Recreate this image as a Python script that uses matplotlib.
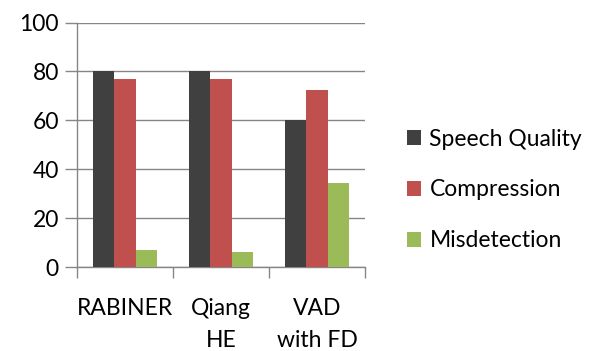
import numpy as np
import matplotlib
matplotlib.use("Agg")
import matplotlib.pyplot as plt
from matplotlib.patches import Patch

# values per method
methods = ["RABINER", "Qiang\nHE", "VAD\nwith FD"]
series_names = ["Speech Quality", "Compression", "Misdetection"]
speech_quality = [80, 80, 60]
compression = [77, 77, 72.5]
misdetection = [7, 6.3, 34.5]

colors = ["#404040", "#C0504D", "#9BBB59"]
axis_grey = "#868686"

plt.rcParams["font.family"] = ["Lato", "DejaVu Sans"]

fig = plt.figure(figsize=(5.92, 3.51), dpi=100)
ax = fig.add_axes([77 / 592, 1 - 267 / 351, (365 - 77) / 592, (267 - 22.5) / 351])

x = np.arange(len(methods))
w = 0.222
for i, (vals, c) in enumerate(zip([speech_quality, compression, misdetection], colors)):
    ax.bar(x + (i - 1) * w, vals, width=w, color=c, zorder=3)

ax.set_xlim(-0.5, len(methods) - 0.5)
ax.set_ylim(0, 100)
ax.set_yticks(range(0, 101, 20))
ax.yaxis.grid(True, color=axis_grey, linewidth=1.0, zorder=0)
ax.tick_params(axis="y", length=9, color=axis_grey, width=1.0, labelsize=16.5, pad=4)

# category ticks sit on the group boundaries
ax.set_xticks(np.arange(-0.5, len(methods)), minor=False)
ax.set_xticklabels([])
ax.set_xticks(x, minor=True)
ax.set_xticklabels(methods, minor=True, fontsize=16.5, va="top", linespacing=1.65)
ax.tick_params(axis="x", which="major", length=8, color=axis_grey, width=1.0)
ax.tick_params(axis="x", which="minor", length=0, pad=22)

for side in ["top", "right"]:
    ax.spines[side].set_visible(False)
for side in ["left", "bottom"]:
    ax.spines[side].set_color(axis_grey)
    ax.spines[side].set_linewidth(1.0)

handles = [Patch(facecolor=c, edgecolor="none") for c in colors]
fig.legend(handles, series_names, loc="center left", bbox_to_anchor=(398 / 592, 1 - 190 / 351),
           frameon=False, fontsize=16.5, handlelength=0.62, handleheight=0.62,
           handletextpad=0.35, labelspacing=1.3, borderaxespad=0)

fig.savefig("out.png", dpi=100)
